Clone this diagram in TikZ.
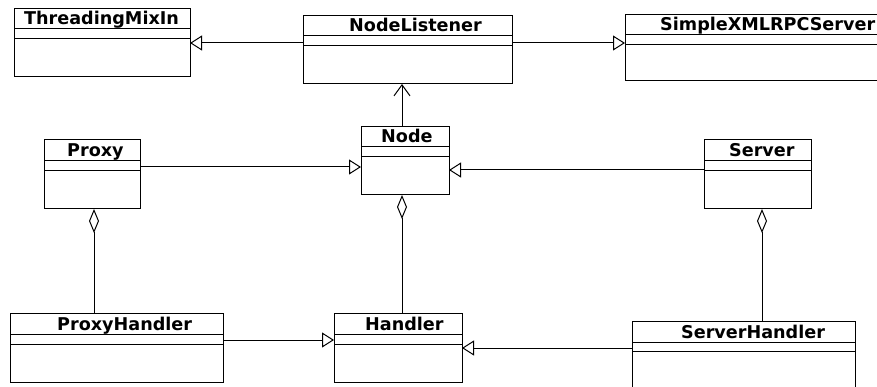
\documentclass[tikz,border=0pt]{standalone}
\usepackage{fontspec}
\setmainfont{DejaVu Sans}
\usetikzlibrary{arrows.meta}
\tikzset{
  classbox/.style={draw, line width=1pt, inner sep=0pt, outer sep=0pt, anchor=north west},
  sep/.style={line width=1pt},
  classname/.style={anchor=base west, inner sep=0pt, font=\fontsize{17.6}{20}\selectfont\bfseries},
  conn/.style={line width=1pt},
  gen/.style={conn, -{Triangle[open, length=12pt, width=15pt]}},
  nav/.style={conn, -{Straight Barb[length=11pt, width=16pt]}},
  agg/.style={conn, {Diamond[open, length=24pt, width=10pt]}-},
}
% \umlclass{id}{left}{top}{right}{bottom}{line1}{line2}{text x}{name}
\newcommand{\umlclass}[9]{%
  \node[classbox, minimum width=#4pt-#2pt, minimum height=#5pt-#3pt] (#1) at (#2,#3) {};
  \draw[sep] (#2,#6) -- (#4,#6);
  \draw[sep] (#2,#7) -- (#4,#7);
  \node[classname] (#1-name) at (#8,#6-4) {#9};
}
\begin{document}
\begin{tikzpicture}[x=1pt, y=-1pt]
  \useasboundingbox (0,0) rectangle (877,387);
  \clip (0,0) rectangle (877,387);

  % classes
  \umlclass{tm}{14}{9}{190}{77}{29}{39}{24}{ThreadingMixIn}
  \umlclass{nl}{303}{16}{512}{84}{36}{46}{349}{NodeListener}
  \umlclass{sx}{625}{15}{905}{81}{35}{45}{660}{SimpleXMLRPCServer}
  \umlclass{nd}{361}{127}{449}{195}{147}{157}{381}{Node}
  \umlclass{px}{44}{140}{140}{209}{161}{171}{67}{Proxy}
  \umlclass{sv}{704}{140}{811}{209}{161}{171}{729}{Server}
  \umlclass{ph}{10}{313}{223}{382}{334}{344}{57}{ProxyHandler}
  \umlclass{hd}{334}{313}{462}{382}{334}{344}{365}{Handler}
  \umlclass{sh}{632}{321}{855}{410}{342}{351}{681}{ServerHandler}

  % generalizations
  \draw[gen] (nl.west |- 0,43) -- (tm.east |- 0,43);
  \draw[gen] (nl.east |- 0,43) -- (sx.west |- 0,43);
  \draw[gen] (px.east |- 0,167) -- (nd.west |- 0,167);
  \draw[gen] (sv.west |- 0,170) -- (nd.east |- 0,170);
  \draw[gen] (ph.east |- 0,340) -- (hd.west |- 0,340);
  \draw[gen] (sh.west |- 0,348) -- (hd.east |- 0,348);

  % navigable association
  \draw[nav] (nd.north -| 402,0) -- (nl.south -| 402,0);

  % aggregations
  \draw[agg] (px.south -| 94,0) -- (ph.north -| 94,0);
  \draw[agg] (nd.south -| 402,0) -- (hd.north -| 402,0);
  \draw[agg] (sv.south -| 762,0) -- (sh.north -| 762,0);
\end{tikzpicture}
\end{document}
